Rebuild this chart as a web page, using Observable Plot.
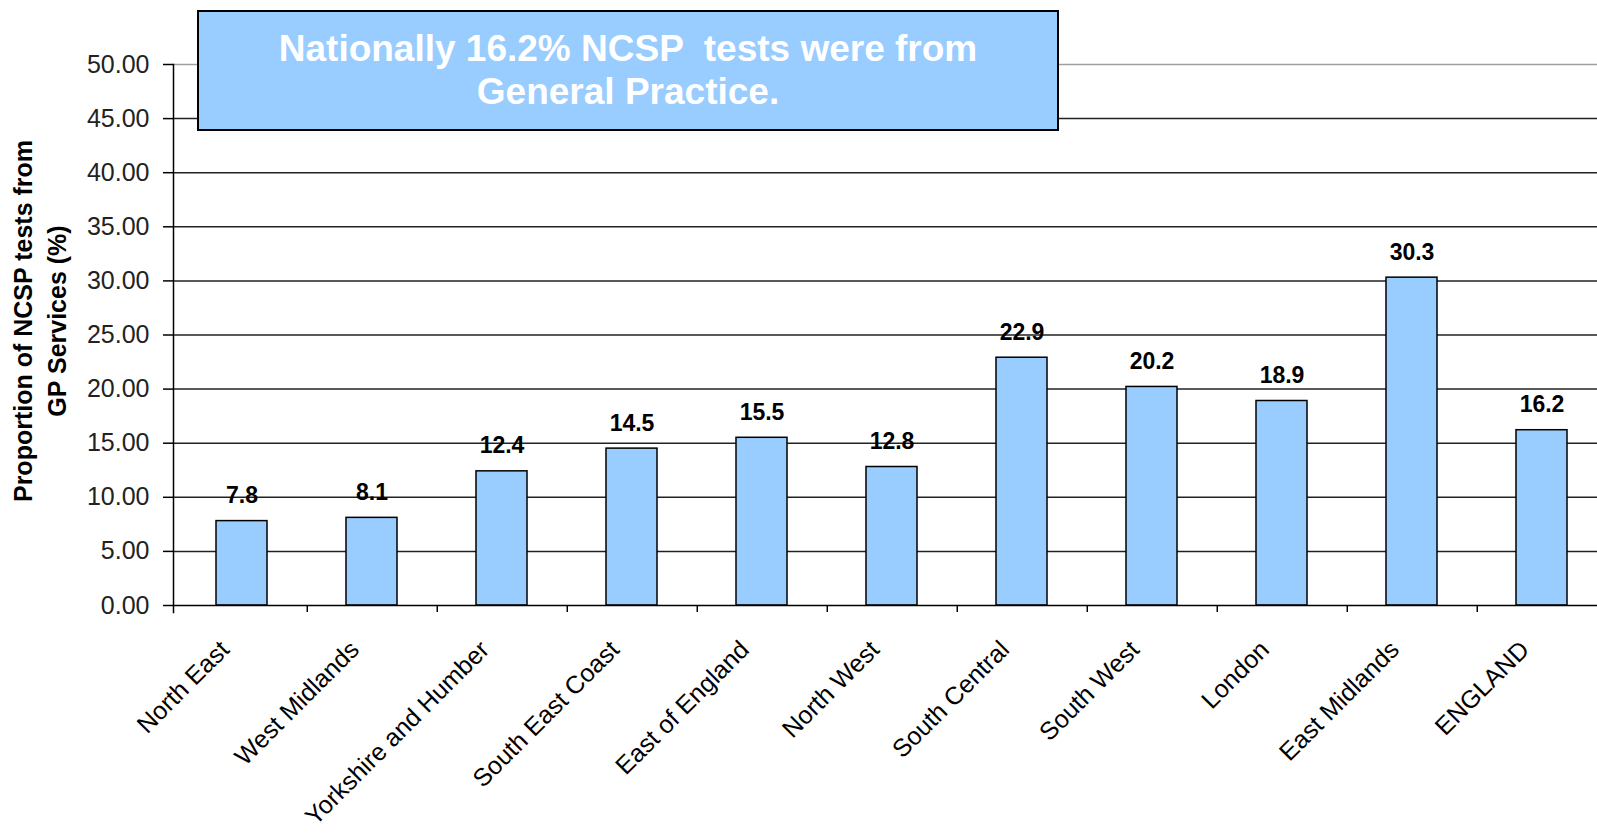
<!DOCTYPE html>
<html>
<head>
<meta charset="utf-8">
<script src="https://cdn.jsdelivr.net/npm/d3@7"></script>
<script src="https://cdn.jsdelivr.net/npm/@observablehq/plot@0.6"></script>
<style>
  html, body { margin: 0; padding: 0; background: #fff; overflow: hidden; }
  #wrap { position: relative; width: 1597px; height: 838px; font-family: "Liberation Sans", Arial, sans-serif; }
  #note {
    position: absolute; left: 197px; top: 10px; width: 862px; height: 121px;
    box-sizing: border-box; border: 2px solid #000; background: #99CCFF;
    color: #fff; font-weight: bold; font-size: 37px; line-height: 43px;
    text-align: center; padding-top: 15px; white-space: pre;
  }
</style>
</head>
<body>
<div id="wrap">
  <div id="chart"></div>
  <div id="note">Nationally 16.2% NCSP  tests were from
General Practice.</div>
</div>
<script>
const regions = ["North East", "West Midlands", "Yorkshire and Humber", "South East Coast", "East of England", "North West", "South Central", "South West", "London", "East Midlands", "ENGLAND"];
const values = [7.8, 8.1, 12.4, 14.5, 15.5, 12.8, 22.9, 20.2, 18.9, 30.3, 16.2];
const yTicks = [0, 5, 10, 15, 20, 25, 30, 35, 40, 45, 50];
const yTitle = "Proportion of NCSP tests from\nGP Services (%)";

const data = regions.map((r, i) => ({region: r, value: values[i]}));

const width = 1597, height = 838;
const marginLeft = 173, marginTop = 64, marginBottom = 233;
const xRange = [173, 1609];
const step = (xRange[1] - xRange[0]) / regions.length;

const chart = Plot.plot({
  width, height,
  marginLeft, marginRight: 0, marginTop, marginBottom,
  style: {fontFamily: "Liberation Sans, Arial, sans-serif", fontSize: "24px", color: "#000", background: "#fff"},
  x: {domain: regions, range: xRange, paddingInner: 0.61, paddingOuter: 0.305, axis: null},
  y: {domain: [0, 50], axis: null},
  marks: [
    Plot.ruleY(yTicks.filter(d => d > 0), {stroke: d => d === 50 ? "#a0a0a0" : "#222", strokeWidth: 1.5}),
    Plot.axisY({ticks: yTicks, tickFormat: d3.format(".2f"), tickSize: 10, tickPadding: 14, fontSize: 25, label: null, stroke: "#000", strokeWidth: 1.5, fill: "#222"}),
    Plot.barY(data, {x: "region", y: "value", fill: "#99CCFF", stroke: "#000", strokeWidth: 1.5}),
    Plot.text(data, {x: "region", y: "value", text: d => d.value.toFixed(1), lineAnchor: "bottom", dy: -18, fontSize: 23, fontWeight: "bold", fill: "#000"}),
    Plot.ruleY([0], {stroke: "#000", strokeWidth: 1.5}),
    Plot.frame({anchor: "left", insetBottom: -7, stroke: "#000", strokeWidth: 1.5}),
    Plot.ruleX(regions, {x: d => d, y1: 0, y2: 0, insetBottom: -7, dx: step / 2, stroke: "#000", strokeWidth: 1.5}),
    Plot.text(regions, {x: d => d, frameAnchor: "bottom", rotate: -45, textAnchor: "end", lineAnchor: "middle", dx: -17, dy: 40, fontSize: 25, fill: "#000"}),
    Plot.text([yTitle], {frameAnchor: "left", rotate: -90, textAnchor: "middle", lineAnchor: "middle", lineHeight: 1.35, dx: -135, dy: -14, fontSize: 25, fontWeight: "bold", fill: "#000"})
  ]
});
document.getElementById("chart").appendChild(chart);
</script>
</body>
</html>
